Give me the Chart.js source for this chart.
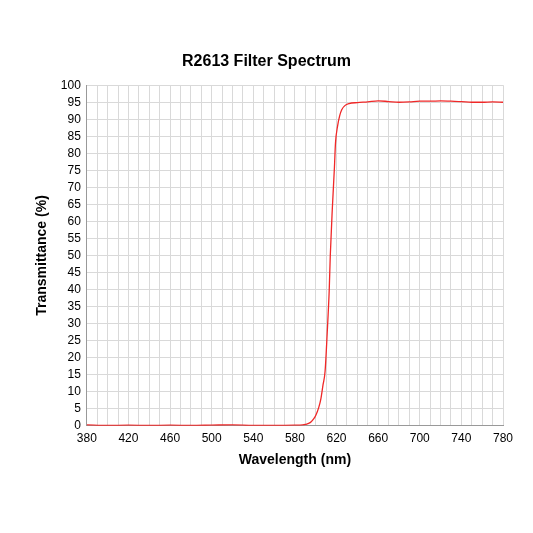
<!DOCTYPE html>
<html>
<head>
<meta charset="utf-8">
<script src="https://cdn.jsdelivr.net/npm/chart.js@4"></script>
<style>
    html, body { margin: 0; padding: 0; background: #fff; }
    #wrap { width: 533px; height: 533px; }
</style>
</head>
<body>
<div id="wrap"><canvas id="ControlFilterSpectrum"></canvas></div>
<script>
// wavelength (nm) and transmittance (%)
var wavelengths = [380, 400, 420, 440, 460, 480, 500, 520, 540, 560, 580, 585, 590, 595, 598, 600, 603, 605, 607, 609, 611, 613, 614, 616, 618, 619, 621, 623, 625, 628, 632, 640, 650, 660, 670, 680, 690, 700, 710, 720, 730, 740, 750, 760, 770, 780];
var transmittance = [0.3, 0.1, 0.2, 0.1, 0.2, 0.1, 0.2, 0.3, 0.1, 0.1, 0.2, 0.2, 0.4, 1.0, 2.0, 3.0, 5.5, 8.0, 12, 16, 27, 40, 50, 64, 76, 83, 88, 91, 92.8, 94.0, 94.6, 94.9, 95.1, 95.4, 95.2, 95.0, 95.1, 95.3, 95.3, 95.4, 95.3, 95.2, 95.0, 95.0, 95.1, 95.0];
var xTicks = [380, 420, 460, 500, 540, 580, 620, 660, 700, 740, 780];

var points = [];
for (var i = 0; i < wavelengths.length; i++) {
    points.push({ x: wavelengths[i], y: transmittance[i] });
}

var ctx = document.getElementById("ControlFilterSpectrum").getContext('2d');
var fontFamily = "'Liberation Sans', Arial, sans-serif";
var chart = new Chart(ctx, {
    type: 'line',
    data: {
        datasets: [{
            label: "R2613",
            data: points,
            borderColor: 'rgb(240, 40, 40)',
            borderWidth: 1.3,
            pointRadius: 0,
            cubicInterpolationMode: 'monotone',
            fill: false
        }]
    },
    options: {
        responsive: true,
        maintainAspectRatio: false,
        animation: false,
        layout: { padding: { left: 30, right: 30, top: 52, bottom: 60 } },
        plugins: {
            legend: { display: false },
            title: {
                display: true,
                text: 'R2613 Filter Spectrum',
                color: '#000',
                font: { family: fontFamily, size: 16, weight: 'bold' },
                padding: { top: 0, bottom: 14 }
            }
        },
        scales: {
            x: {
                type: 'linear',
                min: 380,
                max: 780,
                ticks: {
                    stepSize: 10,
                    color: '#000',
                    autoSkip: false,
                    maxRotation: 0,
                    padding: 6,
                    font: { family: fontFamily, size: 12 },
                    callback: function (v) { return xTicks.indexOf(v) >= 0 ? v : ''; }
                },
                grid: { color: '#d9d9d9', drawTicks: false },
                border: { color: '#999' },
                title: {
                    display: true,
                    text: 'Wavelength (nm)',
                    color: '#000',
                    font: { family: fontFamily, size: 14, weight: 'bold' },
                    padding: { top: 0 }
                }
            },
            y: {
                min: 0,
                max: 100,
                ticks: {
                    stepSize: 5,
                    color: '#000',
                    autoSkip: false,
                    padding: 6,
                    font: { family: fontFamily, size: 12 }
                },
                grid: { color: '#d9d9d9', drawTicks: false },
                border: { color: '#999' },
                title: {
                    display: true,
                    text: 'Transmittance (%)',
                    color: '#000',
                    font: { family: fontFamily, size: 14, weight: 'bold' },
                    padding: { bottom: 4 }
                }
            }
        }
    }
});
</script>
</body>
</html>
